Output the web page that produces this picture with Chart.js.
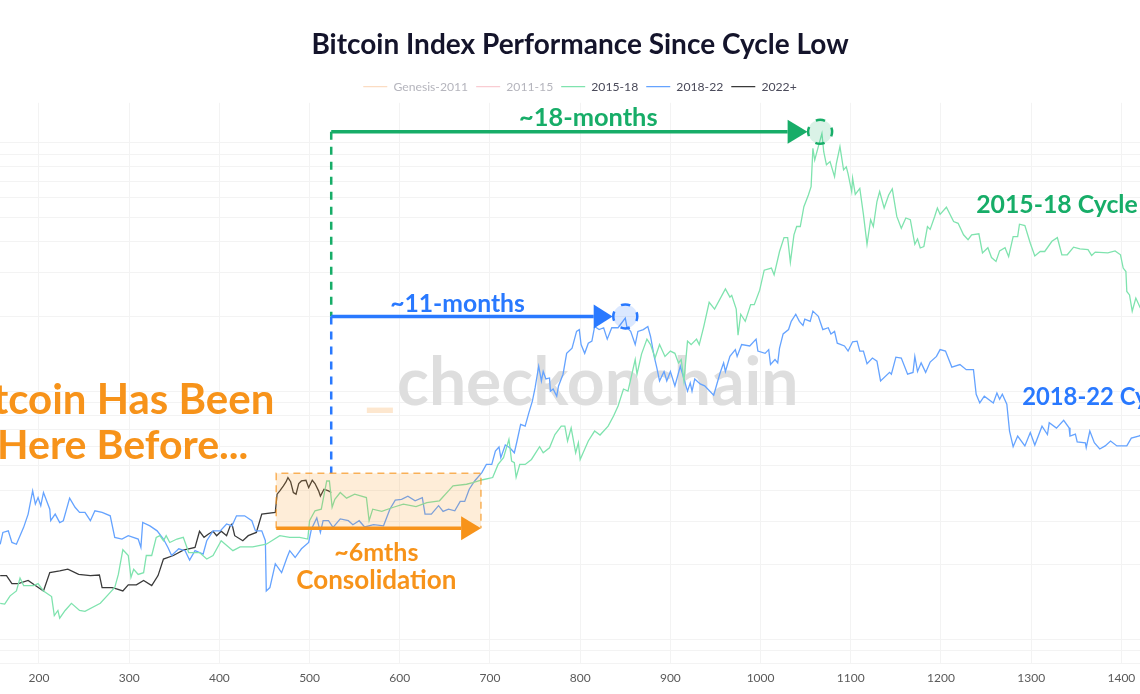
<!DOCTYPE html>
<html>
<head>
<meta charset="utf-8">
<title>Bitcoin Index Performance Since Cycle Low</title>
<script src="https://cdn.jsdelivr.net/npm/chart.js@4"></script>
<style>
  html, body { margin: 0; padding: 0; background: #fff; overflow: hidden; width: 1140px; height: 694px; }
  canvas { display: block; }
</style>
</head>
<body>
<canvas id="myChart" width="1160" height="694"></canvas>
<script>
const chartTitle = 'Bitcoin Index Performance Since Cycle Low';
const legendNames = ['Genesis-2011', '2011-15', '2015-18', '2018-22', '2022+'];
const yGridValues = [0.08, 0.09, 0.1, 0.2, 0.3, 0.4, 0.5, 0.6, 0.7, 0.8, 0.9, 1, 2, 3, 4, 5, 6, 7, 8, 9, 10];

const days15 = [157,162,168,175,179,183,194,199,205,214,217,221,223,229,236,245,251,268,277,284,288,293,299,302,305,310,316,319,325,330,334,338,341,345,353,360,366,378,386,393,402,415,423,437,452,467,478,489,498,500,506,513,519,522,525,528,534,541,550,563,566,570,580,593,604,618,630,644,654,659,674,681,692,703,709,715,721,724,727,729,733,739,746,755,759,766,772,779,783,786,790,795,798,800,809,816,822,831,837,842,848,853,861,863,868,874,878,883,888,894,900,905,909,912,915,919,923,929,932,937,943,949,961,966,968,973,975,978,983,989,993,999,1004,1012,1015,1021,1026,1030,1033,1037,1040,1044,1048,1053,1056,1058,1060,1064,1068,1070,1073,1077,1082,1084,1088,1092,1095,1097,1101,1102,1105,1110,1114,1118,1122,1125,1129,1132,1137,1142,1146,1151,1156,1161,1166,1171,1174,1177,1181,1185,1188,1193,1196,1199,1206,1214,1219,1225,1230,1234,1242,1246,1252,1256,1261,1265,1271,1275,1280,1285,1287,1293,1299,1304,1310,1315,1323,1329,1334,1340,1347,1354,1363,1367,1371,1385,1393,1399,1402,1405,1406,1409,1412,1416,1421];
const values15 = [.140,.139,.150,.157,.177,.165,.165,.168,.157,.149,.125,.131,.122,.131,.140,.131,.130,.140,.152,.162,.183,.230,.218,.178,.192,.183,.186,.218,.218,.258,.262,.250,.262,.246,.254,.258,.224,.224,.211,.218,.250,.228,.236,.236,.242,.262,.258,.258,.254,.301,.330,.335,.435,.435,.341,.367,.391,.371,.385,.373,.301,.335,.328,.341,.351,.343,.356,.362,.397,.416,.422,.428,.440,.449,.507,.540,.640,.523,.516,.450,.507,.507,.531,.598,.565,.592,.669,.723,.723,.630,.712,.565,.620,.531,.630,.691,.666,.723,.794,.871,1.02,1.00,1.34,1.17,1.41,1.62,1.54,1.36,1.54,1.38,1.45,1.42,1.30,1.34,1.10,1.59,1.54,1.62,1.54,1.82,2.28,2.14,2.58,2.39,2.43,2.14,1.68,2.04,1.91,2.23,2.23,2.55,3.07,3.13,2.94,3.65,4.15,4.15,3.30,4.26,4.60,4.60,5.53,6.16,6.66,9.50,8.52,9.65,10.9,9.2,8.15,8.4,7.3,8.25,9.65,7.78,8.0,7.5,6.36,7.2,6.20,6.55,5.15,3.90,4.90,4.60,5.80,6.36,5.46,6.16,6.52,5.05,4.53,4.98,4.90,3.90,4.10,3.77,3.82,4.60,4.48,5.05,5.46,5.15,5.50,4.82,4.74,4.26,4.07,4.26,4.30,3.60,3.78,3.45,3.33,3.67,3.78,3.48,4.19,4.19,4.70,4.64,3.94,3.50,3.65,3.65,4.01,4.15,3.54,3.54,3.80,3.74,3.71,3.52,3.63,3.60,3.67,3.54,3.13,3.03,2.52,2.44,2.10,2.37,2.16];

const days18 = [157,160,166,170,175,183,188,193,196,199,202,205,212,213,218,223,227,234,240,245,251,257,262,270,279,284,292,299,310,313,315,323,331,338,343,347,355,362,367,373,382,386,393,401,408,414,419,428,436,440,447,451,452,456,462,469,475,478,484,491,499,502,508,512,515,521,526,534,543,548,555,561,571,582,589,595,602,609,617,625,628,635,643,648,654,661,667,672,677,683,691,696,702,706,710,712,717,722,727,730,734,739,743,747,750,754,757,759,762,766,767,770,774,776,781,785,791,796,799,801,805,809,813,816,821,826,830,835,842,850,852,856,861,864,870,875,878,882,885,888,893,896,900,905,911,915,919,922,924,927,933,938,948,955,959,961,966,972,974,979,988,995,997,1005,1009,1011,1016,1019,1021,1025,1031,1034,1039,1043,1047,1049,1055,1058,1064,1069,1075,1078,1082,1085,1093,1097,1102,1107,1110,1114,1118,1124,1129,1133,1143,1145,1150,1156,1163,1169,1171,1174,1178,1183,1188,1195,1199,1205,1212,1221,1228,1236,1239,1243,1248,1258,1262,1265,1268,1273,1276,1280,1285,1293,1299,1304,1312,1318,1320,1328,1336,1342,1343,1349,1351,1360,1361,1365,1370,1376,1382,1388,1395,1406,1411,1420,1424];
const values18 = [.242,.270,.274,.246,.242,.283,.320,.397,.351,.373,.346,.391,.335,.301,.320,.296,.301,.371,.341,.325,.325,.301,.330,.325,.315,.258,.254,.262,.254,.235,.296,.287,.274,.254,.235,.218,.232,.228,.209,.228,.221,.250,.274,.274,.292,.287,.315,.315,.301,.274,.274,.250,.157,.162,.202,.186,.214,.228,.214,.232,.246,.278,.309,.270,.301,.301,.283,.306,.301,.290,.301,.284,.290,.287,.335,.364,.367,.378,.362,.373,.320,.320,.346,.328,.335,.330,.360,.360,.403,.435,.470,.507,.507,.574,.596,.540,.607,.592,.565,.630,.735,.723,.816,.912,1.03,1.26,1.10,1.20,1.12,1.13,1.00,1.02,.955,1.05,1.17,1.42,1.49,1.74,1.77,1.54,1.42,1.56,1.59,1.82,1.77,1.80,1.62,1.80,1.80,1.97,1.80,1.74,1.54,1.74,1.77,1.82,1.66,1.38,1.24,1.10,1.20,1.10,1.20,1.05,1.26,1.12,1.00,1.08,1.00,1.12,1.07,1.05,.963,1.18,1.30,1.20,1.38,1.47,1.38,1.54,1.52,1.62,1.45,1.42,1.47,1.28,1.34,1.30,1.49,1.70,1.77,1.91,2.04,1.91,1.84,1.95,1.91,2.10,2.00,1.77,1.80,1.70,1.74,1.56,1.52,1.45,1.58,1.59,1.45,1.45,1.29,1.36,1.32,1.10,1.19,1.17,1.37,1.36,1.17,1.19,1.38,1.20,1.30,1.19,1.31,1.38,1.47,1.45,1.25,1.28,1.22,1.22,.972,.897,.955,.897,.984,.928,.972,.887,.691,.598,.660,.602,.681,.607,.723,.669,.746,.710,.763,.712,.660,.672,.625,.620,.592,.691,.620,.585,.602,.630,.602,.602,.647,.660,.680];

const days22 = [157,164,170,177,188,196,205,212,223,232,244,257,267,270,281,286,293,299,308,316,325,332,338,349,360,373,378,383,388,393,397,402,408,412,414,417,426,432,441,447,462,464,467,471,474,476,479,482,485,488,491,496,499,503,506,510,512,516,521,524];
const values22 = [.181,.181,.168,.168,.173,.165,.157,.186,.189,.192,.183,.181,.182,.162,.162,.160,.157,.166,.166,.173,.165,.181,.211,.218,.229,.235,.273,.258,.266,.273,.262,.273,.262,.287,.292,.262,.250,.262,.270,.320,.325,.385,.397,.416,.432,.449,.432,.391,.385,.425,.435,.438,.409,.438,.425,.397,.378,.403,.397,.391];

// annotation anchors, in days and index value
const startDay = 524;
const greenArrow = { tipDay: 1052, baseDay: 1030, value: 11.07, peakDay: 1066 };
const blueArrow = { tipDay: 836, baseDay: 815, value: 2.0, peakDay: 850 };
const orangeBox = { fromDay: 463, toDay: 690, top: 0.467, bottom: 0.281, arrowBaseDay: 668 };

const noteFont = '"Lato", "Open Sans", sans-serif';
const green = '#17ad68', blue = '#2979ff', orange = '#f7931a';

function toPoints(days, values) {
    return days.map(function (d, i) { return { x: d, y: values[i] }; });
}

function arrow(ctx, x0, x1, xBase, y, half, color) {
    ctx.strokeStyle = color;
    ctx.fillStyle = color;
    ctx.lineWidth = 3.5;
    ctx.setLineDash([]);
    ctx.beginPath();
    ctx.moveTo(x0, y);
    ctx.lineTo(xBase, y);
    ctx.stroke();
    ctx.beginPath();
    ctx.moveTo(xBase, y - half);
    ctx.lineTo(x1, y);
    ctx.lineTo(xBase, y + half);
    ctx.closePath();
    ctx.fill();
}

// four dashes round the ring, one on each side
function peakCircle(ctx, x, y, color, fill) {
    const r = 12, dash = Math.PI * 2 * r / 8;
    ctx.beginPath();
    ctx.arc(x, y, r, 0, Math.PI * 2);
    ctx.fillStyle = fill;
    ctx.fill();
    ctx.strokeStyle = color;
    ctx.lineWidth = 2.5;
    ctx.setLineDash([dash, dash]);
    ctx.lineDashOffset = dash / 2;
    ctx.stroke();
    ctx.lineDashOffset = 0;
    ctx.setLineDash([]);
}

function note(ctx, text, day, value, scales, size, color, align) {
    ctx.font = 'bold ' + size + 'px ' + noteFont;
    ctx.fillStyle = color;
    ctx.textAlign = align;
    ctx.textBaseline = 'middle';
    ctx.fillText(text, scales.x.getPixelForValue(day), scales.y.getPixelForValue(value));
}

const notesPlugin = {
    id: 'notes',
    beforeDatasetsDraw: function (chart) {
        const ctx = chart.ctx, s = chart.scales;
        ctx.save();
        ctx.font = 'bold 66px ' + noteFont;
        ctx.fillStyle = '#dedede';
        ctx.textAlign = 'left';
        ctx.textBaseline = 'alphabetic';
        ctx.fillText('checkonchain', s.x.getPixelForValue(597), s.y.getPixelForValue(0.876));
        ctx.fillStyle = '#fde7cf';
        ctx.fillText('_', s.x.getPixelForValue(561), s.y.getPixelForValue(0.9));
        ctx.restore();
    },
    afterDatasetsDraw: function (chart) {
        const ctx = chart.ctx, s = chart.scales;
        const x = function (d) { return s.x.getPixelForValue(d); };
        const y = function (v) { return s.y.getPixelForValue(v); };
        ctx.save();

        // dashed drop lines from the two arrows
        ctx.lineWidth = 2.5;
        ctx.setLineDash([8, 7]);
        ctx.strokeStyle = green;
        ctx.beginPath();
        ctx.moveTo(x(startDay), y(greenArrow.value));
        ctx.lineTo(x(startDay), y(blueArrow.value));
        ctx.stroke();
        ctx.strokeStyle = blue;
        ctx.beginPath();
        ctx.moveTo(x(startDay), y(blueArrow.value));
        ctx.lineTo(x(startDay), y(orangeBox.top));
        ctx.stroke();

        // consolidation box
        ctx.setLineDash([]);
        ctx.fillStyle = 'rgba(247,147,26,0.17)';
        ctx.fillRect(x(orangeBox.fromDay), y(orangeBox.top), x(orangeBox.toDay) - x(orangeBox.fromDay), y(orangeBox.bottom) - y(orangeBox.top));
        ctx.strokeStyle = 'rgba(247,147,26,0.7)';
        ctx.lineWidth = 1.5;
        ctx.setLineDash([7, 5]);
        ctx.beginPath();
        ctx.moveTo(x(orangeBox.fromDay), y(orangeBox.bottom));
        ctx.lineTo(x(orangeBox.fromDay), y(orangeBox.top));
        ctx.lineTo(x(orangeBox.toDay), y(orangeBox.top));
        ctx.lineTo(x(orangeBox.toDay), y(orangeBox.bottom));
        ctx.stroke();

        arrow(ctx, x(startDay), x(greenArrow.tipDay), x(greenArrow.baseDay), y(greenArrow.value), 12, green);
        arrow(ctx, x(startDay), x(blueArrow.tipDay), x(blueArrow.baseDay), y(blueArrow.value), 12, blue);
        arrow(ctx, x(orangeBox.fromDay), x(orangeBox.toDay), x(orangeBox.arrowBaseDay), y(orangeBox.bottom), 12, orange);

        peakCircle(ctx, x(greenArrow.peakDay), y(greenArrow.value), green, 'rgba(23,173,104,0.16)');
        peakCircle(ctx, x(blueArrow.peakDay), y(blueArrow.value), blue, 'rgba(41,121,255,0.17)');

        note(ctx, '~18-months', 809, 12.6, s, 25.4, green, 'center');
        note(ctx, '~11-months', 664, 2.24, s, 24.7, blue, 'center');
        note(ctx, '~6mths', 574, 0.223, s, 25, orange, 'center');
        note(ctx, 'Consolidation', 574, 0.173, s, 26, orange, 'center');
        note(ctx, 'Bitcoin Has Been', 461, 0.918, s, 42, orange, 'right');
        note(ctx, 'Here Before...', 432, 0.605, s, 41, orange, 'right');
        note(ctx, '2015-18 Cycle', 1239, 5.63, s, 24.8, green, 'left');
        note(ctx, '2018-22 Cycle', 1290, 0.944, s, 23.8, blue, 'left');
        ctx.restore();
    }
};

window.onload = function () {
    const ctx = document.getElementById('myChart');
    const myChart = new Chart(ctx, {
        type: 'scatter',
        data: {
            datasets: [
                { label: legendNames[0], data: [], borderColor: '#fbdcc2' },
                { label: legendNames[1], data: [], borderColor: '#f9ccd2' },
                { label: legendNames[2], data: toPoints(days15, values15), borderColor: '#7fe3ae' },
                { label: legendNames[3], data: toPoints(days18, values18), borderColor: '#65a3ff' },
                { label: legendNames[4], data: toPoints(days22, values22), borderColor: '#3a3a3a' }
            ].map(function (d) {
                d.showLine = true;
                d.pointRadius = 0;
                d.borderWidth = 1.3;
                d.backgroundColor = d.borderColor;
                return d;
            })
        },
        options: {
            responsive: false,
            animation: false,
            layout: { padding: 0 },
            scales: {
                x: {
                    type: 'linear',
                    min: 156.8,
                    max: 1442.8,
                    afterFit: function (scale) { scale.height = 31; },
                    grid: { color: '#f3f3f3', drawTicks: false },
                    border: { display: false },
                    ticks: {
                        stepSize: 100,
                        includeBounds: false,
                        padding: 8,
                        maxRotation: 0,
                        color: '#5a5a5a',
                        font: { family: 'Lato', size: 12 },
                        callback: function (v) { return String(v); }
                    }
                },
                y: {
                    type: 'logarithmic',
                    min: 0.0805,
                    max: 14.48,
                    afterFit: function (scale) { scale.width = 0; },
                    afterBuildTicks: function (scale) {
                        scale.ticks = yGridValues.map(function (v) { return { value: v }; });
                    },
                    grid: { color: '#f3f3f3', drawTicks: false },
                    border: { display: false },
                    ticks: { display: false }
                }
            },
            plugins: {
                tooltip: { enabled: false },
                title: {
                    display: true,
                    text: chartTitle,
                    color: '#14142b',
                    font: { family: 'Lato', size: 28, weight: 'bold' },
                    padding: { top: 28, bottom: 11 }
                },
                legend: {
                    display: true,
                    position: 'top',
                    onClick: null,
                    labels: {
                        usePointStyle: true,
                        pointStyle: 'line',
                        pointStyleWidth: 24,
                        boxHeight: 12,
                        padding: 8,
                        font: { family: 'Lato', size: 12.2 },
                        generateLabels: function (chart) {
                            return chart.data.datasets.map(function (d, i) {
                                return {
                                    text: d.label,
                                    datasetIndex: i,
                                    pointStyle: 'line',
                                    lineWidth: 1.3,
                                    strokeStyle: d.borderColor,
                                    fillStyle: d.borderColor,
                                    fontColor: d.data.length ? '#4a4a5a' : '#b5b5bd'
                                };
                            });
                        }
                    }
                }
            }
        },
        plugins: [notesPlugin]
    });
};
</script>
</body>
</html>
